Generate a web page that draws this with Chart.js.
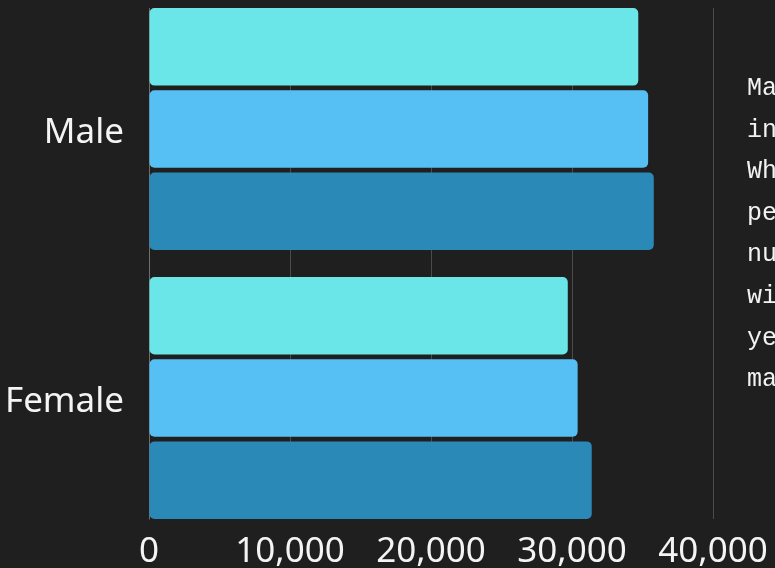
<!DOCTYPE html>
<html>
<head>
<meta charset="utf-8">
<script src="https://cdn.jsdelivr.net/npm/chart.js@4/dist/chart.umd.min.js"></script>
<style>
  html, body { margin: 0; padding: 0; background: #1f1f1f; overflow: hidden; width: 775px; height: 568px; }
  #wrap { position: absolute; left: 0; top: 0; width: 775px; height: 568px; }
  #note {
    position: absolute; left: 747px; top: 68px; width: 400px;
    font-family: "Courier New", "Liberation Mono", monospace; font-size: 25px;
    line-height: 41.6px; color: #f2f2f2; white-space: pre;
  }
</style>
</head>
<body>
<div id="wrap"><canvas id="c" width="775" height="568"></canvas></div>
<div id="note">Males out-earn females
in all three years.
While both groups'
personal income rose,
numbers show the gap
widening slightly each
year in favour of
males.</div>
<script>
const categories = ["Male", "Female"];
const seriesNames = ["Series A", "Series B", "Series C"];
const seriesA = [34700, 29700];
const seriesB = [35400, 30400];
const seriesC = [35800, 31400];
const xTicks = [0, 10000, 20000, 30000, 40000];

const colors = ["#6ae6e8", "#56c0f5", "#2b89b8"];
const gridColor = "rgba(255,255,255,0.2)";
const textColor = "#f4f4f4";
const labelFont = { family: "'Noto Sans', sans-serif", size: 35, lineHeight: 1 };

const allSeries = [seriesA, seriesB, seriesC];
const datasets = allSeries.map((vals, k) => ({
  label: seriesNames[k],
  data: vals.map((v, i) => ({ x: v, y: i })),
  backgroundColor: colors[k],
  borderRadius: 5,
  borderSkipped: false,
  categoryPercentage: 0.917,
  barPercentage: 0.944
}));

new Chart(document.getElementById("c"), {
  type: "bar",
  data: { datasets },
  options: {
    indexAxis: "y",
    responsive: false,
    animation: false,
    layout: { padding: { top: 8, right: 62, left: 0, bottom: 0 } },
    plugins: { legend: { display: false }, tooltip: { enabled: false } },
    scales: {
      x: {
        type: "linear",
        min: xTicks[0],
        max: xTicks[xTicks.length - 1],
        afterBuildTicks: s => { s.ticks = xTicks.map(v => ({ value: v })); },
        afterFit: s => { s.height = 49; s.paddingLeft = 0; s.paddingRight = 0; },
        ticks: {
          color: textColor,
          font: labelFont,
          padding: 16,
          maxRotation: 0,
          callback: v => Number(v).toLocaleString("en-US")
        },
        grid: { color: gridColor, drawTicks: false, lineWidth: 1 },
        border: { display: false }
      },
      y: {
        type: "linear",
        offset: false,
        reverse: true,
        min: -0.45,
        max: 1.45,
        afterBuildTicks: s => { s.ticks = categories.map((_, i) => ({ value: i })); },
        afterFit: s => { s.width = 149; s.paddingTop = 0; s.paddingBottom = 0; },
        ticks: {
          color: textColor,
          font: labelFont,
          padding: 25,
          labelOffset: 4,
          autoSkip: false,
          callback: v => categories[v]
        },
        grid: { display: false, drawTicks: false },
        border: { display: true, color: gridColor }
      }
    }
  }
});
</script>
</body>
</html>
